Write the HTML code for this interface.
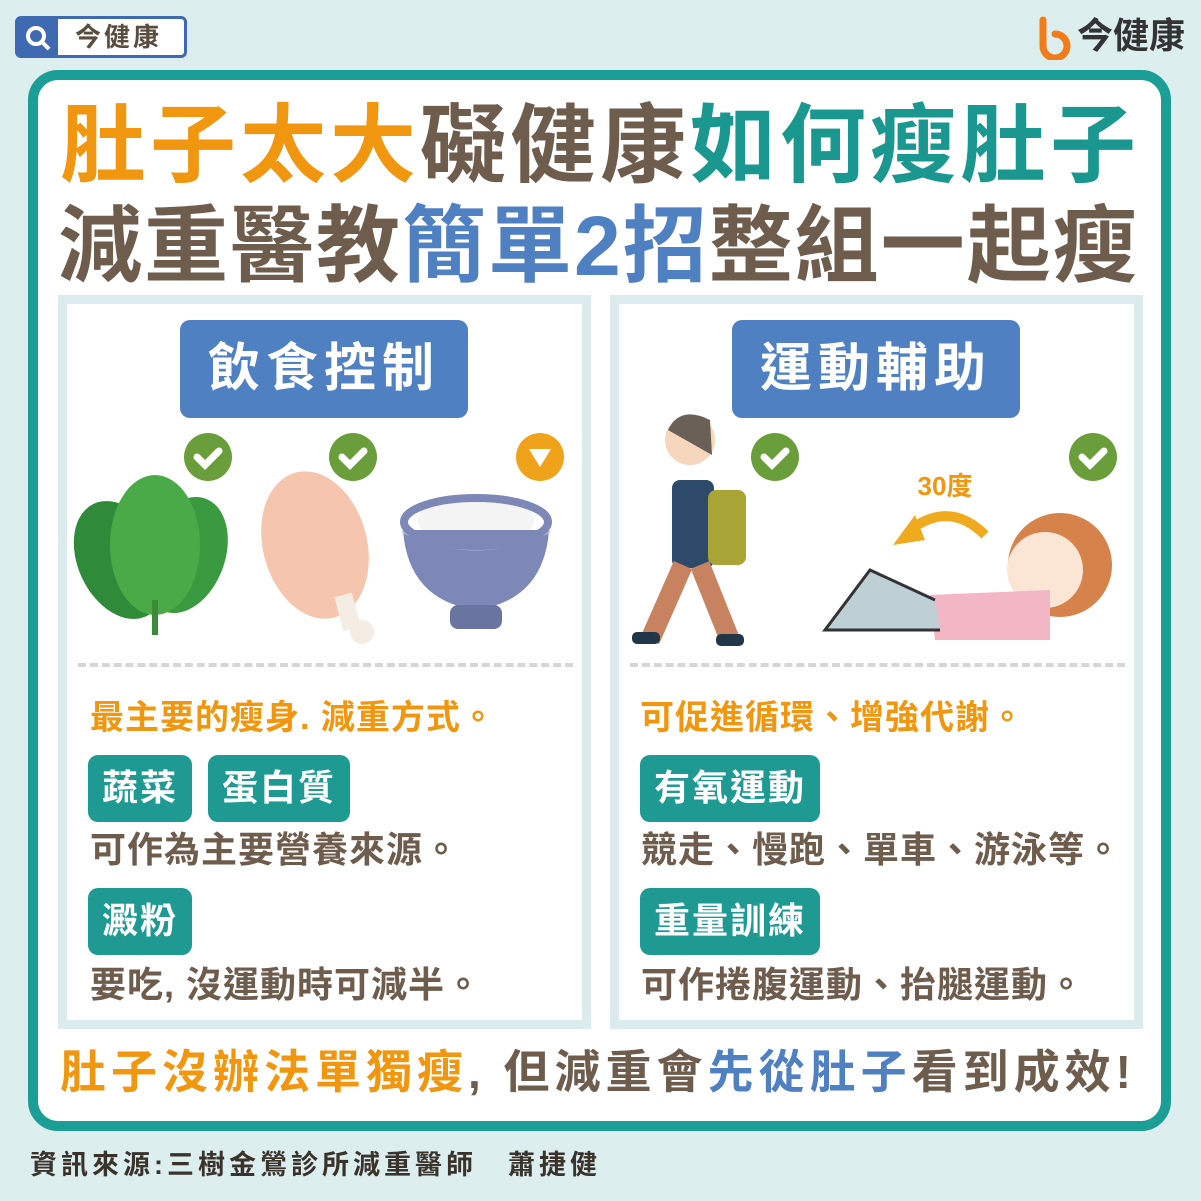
<!DOCTYPE html>
<html><head><meta charset="utf-8">
<style>
*{margin:0;padding:0;box-sizing:border-box}
body{width:1201px;height:1201px;background:#ddeeef;position:relative;overflow:hidden;font-family:"Liberation Sans","Noto Sans CJK TC",sans-serif;font-weight:700}
.a{position:absolute;white-space:nowrap}
.or{color:#f0960f}.br{color:#6e5d4d}.tl{color:#1a9890}.bl{color:#4f80c2}
.tag{position:absolute;background:#1f9a93;color:#fff;border-radius:10px;font-size:36px;line-height:66px;padding:0 14px;height:67px;letter-spacing:2px}
.txt{font-size:36px;line-height:40px;letter-spacing:1px}
.hdr{position:absolute;background:#4f80c2;color:#fff;border-radius:10px;font-size:52px;text-align:center;line-height:98px;height:98px;letter-spacing:6px}
.dash{position:absolute;height:0;border-top:4px dashed #d6d6d6}
</style></head><body>
<div class="a" style="left:15px;top:16px;width:172px;height:42px;border:3px solid #3f69b0;border-radius:6px;background:#fff">
 <div style="position:absolute;left:0;top:0;width:40px;height:36px;background:#3f69b0"></div>
 <svg style="position:absolute;left:6px;top:6px" width="28" height="26"><circle cx="12" cy="11" r="8" stroke="#fff" stroke-width="4" fill="none"/><line x1="18" y1="17" x2="25" y2="24" stroke="#fff" stroke-width="4"/></svg>
 <div class="a br" style="left:57px;top:0;font-size:26px;line-height:36px;color:#5a4d40;letter-spacing:3px">今健康</div>
</div>
<div class="a" style="left:1035px;top:12px;height:48px">
 <svg width="40" height="44" style="position:absolute;left:0;top:4px"><path d="M8 4 V30 A12 12 0 1 0 20 18" stroke="#f07d1a" stroke-width="7" fill="none" stroke-linecap="round"/></svg>
 <div class="a" style="left:42px;top:0;font-size:36px;line-height:48px;color:#333">今健康</div>
</div>
<div class="a" style="left:28px;top:70px;width:1143px;height:1061px;border:10px solid #1a9e96;border-radius:30px;background:#fff"></div>
<div class="a or" style="left:60px;top:96px;font-size:86px;line-height:100px;letter-spacing:4px">肚子太大<span class="br">礙健康</span><span class="tl">如何瘦肚子</span></div>
<div class="a br" style="left:58px;top:196px;font-size:84px;line-height:100px;letter-spacing:2px">減重醫教<span class="bl">簡單2招</span>整組一起瘦</div>

<div class="a" style="left:58px;top:295px;width:533px;height:734px;border:9px solid #dcecee;background:#fff"></div>
<div class="a" style="left:610px;top:295px;width:533px;height:734px;border:9px solid #dcecee;background:#fff"></div>

<div class="hdr" style="left:180px;top:320px;width:288px">飲食控制</div>
<div class="hdr" style="left:732px;top:320px;width:288px">運動輔助</div>

<svg class="a" style="left:0;top:0" width="1201" height="700">
 <g>
  <circle cx="208" cy="457" r="24" fill="#6a9e3a"/><path d="M197 457 l8 8 l14 -14" stroke="#fff" stroke-width="7" fill="none" stroke-linecap="round"/>
  <circle cx="353" cy="457" r="24" fill="#6a9e3a"/><path d="M342 457 l8 8 l14 -14" stroke="#fff" stroke-width="7" fill="none" stroke-linecap="round"/>
  <circle cx="540" cy="457" r="24" fill="#f0a21a"/><path d="M529 449 h22 l-11 18z" fill="#fff"/>
  <circle cx="775" cy="457" r="24" fill="#6a9e3a"/><path d="M764 457 l8 8 l14 -14" stroke="#fff" stroke-width="7" fill="none" stroke-linecap="round"/>
  <circle cx="1093" cy="457" r="24" fill="#6a9e3a"/><path d="M1082 457 l8 8 l14 -14" stroke="#fff" stroke-width="7" fill="none" stroke-linecap="round"/>
 </g>
 <g>
  <ellipse cx="120" cy="560" rx="42" ry="62" fill="#2f8a3a" transform="rotate(-25 120 560)"/>
  <ellipse cx="185" cy="555" rx="40" ry="60" fill="#3a9a40" transform="rotate(20 185 555)"/>
  <ellipse cx="155" cy="545" rx="45" ry="70" fill="#4aaa48"/>
  <path d="M155 600 v35" stroke="#3a8a3a" stroke-width="6"/>
 </g>
 <g>
  <ellipse cx="315" cy="545" rx="52" ry="75" fill="#f6c5ad" transform="rotate(-15 315 545)"/>
  <rect x="338" y="595" width="18" height="35" fill="#f3ede4" transform="rotate(-15 345 610)"/>
  <circle cx="362" cy="632" r="12" fill="#f3ede4"/>
 </g>
 <g>
  <ellipse cx="476" cy="520" rx="58" ry="26" fill="#f4f4f4"/>
  <path d="M403 530 Q408 600 476 610 Q544 600 549 530 Z" fill="#7d88b6"/>
  <path d="M403 530 Q476 565 549 530" stroke="#b7bfdc" stroke-width="6" fill="none"/>
  <ellipse cx="476" cy="522" rx="72" ry="24" fill="none" stroke="#7d88b6" stroke-width="8"/>
  <rect x="450" y="605" width="52" height="24" rx="8" fill="#6a74a0"/>
 </g>
 <g>
  <circle cx="690" cy="440" r="25" fill="#f6d6bd"/>
  <path d="M668 430 Q680 405 710 420 L712 455 Z" fill="#6b6058"/>
  <rect x="672" y="480" width="42" height="88" rx="8" fill="#2e4a6a"/>
  <rect x="708" y="490" width="38" height="75" rx="8" fill="#a9a436"/>
  <path d="M683 565 L650 640 M700 565 L730 640" stroke="#c7835f" stroke-width="20"/>
  <rect x="632" y="632" width="28" height="12" rx="5" fill="#22364a"/>
  <rect x="716" y="634" width="28" height="12" rx="5" fill="#22364a"/>
 </g>
 <g>
  <text x="945" y="495" font-size="26" fill="#f0960f" text-anchor="middle" font-family="Liberation Sans, Noto Sans CJK TC, sans-serif" font-weight="700">30度</text>
  <path d="M985 535 Q950 500 910 530" stroke="#f0aa20" stroke-width="10" fill="none"/>
  <path d="M893 545 L915 515 L925 540 Z" fill="#f0aa20"/>
  <circle cx="1060" cy="565" r="52" fill="#d5834a"/>
  <circle cx="1045" cy="570" r="38" fill="#fbe5d4"/>
  <path d="M930 595 L1050 590 L1050 640 L935 640 Z" fill="#f2b6c4"/>
  <path d="M935 600 L870 570 L825 630 L940 630" stroke="#333" stroke-width="3" fill="#bfcfd6"/>
 </g>
</svg>

<div class="dash" style="left:78px;top:663px;width:495px"></div>
<div class="dash" style="left:630px;top:663px;width:495px"></div>

<div class="a or txt" style="left:90px;top:698px;font-size:34px">最主要的瘦身. 減重方式。</div>
<div class="tag" style="left:88px;top:755px">蔬菜</div>
<div class="tag" style="left:208px;top:755px">蛋白質</div>
<div class="a br txt" style="left:90px;top:830px">可作為主要營養來源。</div>
<div class="tag" style="left:88px;top:888px">澱粉</div>
<div class="a br txt" style="left:90px;top:965px">要吃, 沒運動時可減半。</div>

<div class="a or txt" style="left:640px;top:698px;font-size:34px">可促進循環、增強代謝。</div>
<div class="tag" style="left:640px;top:755px">有氧運動</div>
<div class="a br txt" style="left:641px;top:830px">競走、慢跑、單車、游泳等。</div>
<div class="tag" style="left:640px;top:888px">重量訓練</div>
<div class="a br txt" style="left:641px;top:965px">可作捲腹運動、抬腿運動。</div>

<div class="a or" style="left:60px;top:1042px;font-size:46px;line-height:60px;letter-spacing:5px">肚子沒辦法單獨瘦<span class="br">, 但減重會</span><span class="bl">先從肚子</span><span class="br">看到成效!</span></div>
<div class="a" style="left:30px;top:1148px;font-size:27px;line-height:34px;color:#3a332c;letter-spacing:4px">資訊來源:三樹金鶯診所減重醫師　蕭捷健</div>
</body></html>
